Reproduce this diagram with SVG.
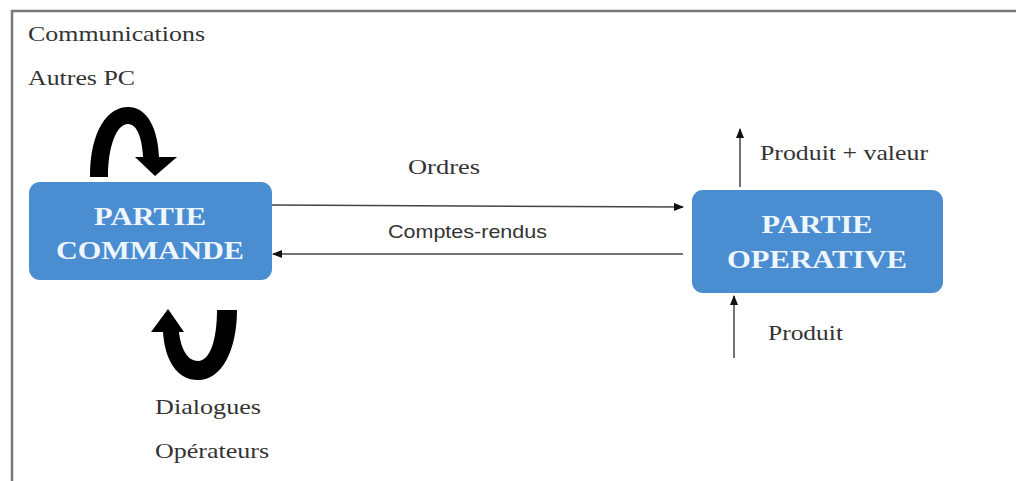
<svg xmlns="http://www.w3.org/2000/svg" width="1016" height="481" viewBox="0 0 1016 481">
<style>
.lbl{font-family:"Liberation Serif","Times New Roman",serif;font-size:22px;fill:#333}
.box{fill:#4a8dd0}
.bt{font-family:"Liberation Serif","Times New Roman",serif;font-size:26px;font-weight:bold;fill:#eef6ff;text-anchor:middle}
.con{stroke:#444;stroke-width:1.5;fill:none}
.sans{font-family:"Liberation Sans",Arial,sans-serif;font-size:19px;fill:#333}
</style>
<defs>
<marker id="ah" markerWidth="10" markerHeight="8" refX="9" refY="4" orient="auto" markerUnits="userSpaceOnUse">
<path d="M0,0 L10,4 L0,8 Z" fill="#111"/>
</marker>
</defs>
<rect width="1016" height="481" fill="#fff"/>
<path d="M12,481 V11 H1016" stroke="#7a7a7a" stroke-width="2.5" fill="none"/>
<g id="labels">
<text class="lbl" x="28" y="41" textLength="177" lengthAdjust="spacingAndGlyphs">Communications</text>
<text class="lbl" x="28" y="85" textLength="107" lengthAdjust="spacingAndGlyphs">Autres PC</text>
<text class="lbl" x="155" y="414" textLength="106" lengthAdjust="spacingAndGlyphs">Dialogues</text>
<text class="lbl" x="155" y="458" textLength="114" lengthAdjust="spacingAndGlyphs">Opérateurs</text>
</g>
<g id="partie-commande">
<rect class="box" x="29" y="182" width="243" height="98" rx="11"/>
<text class="bt" x="150" y="225" textLength="112" lengthAdjust="spacingAndGlyphs">PARTIE</text>
<text class="bt" x="150" y="259" textLength="188" lengthAdjust="spacingAndGlyphs">COMMANDE</text>
</g>
<g id="partie-operative">
<rect class="box" x="692" y="190" width="251" height="103" rx="11"/>
<text class="bt" x="817" y="233" textLength="111" lengthAdjust="spacingAndGlyphs">PARTIE</text>
<text class="bt" x="817" y="268" textLength="180" lengthAdjust="spacingAndGlyphs">OPERATIVE</text>
</g>
<g id="connectors">
<line class="con" x1="272" y1="205" x2="683" y2="207" marker-end="url(#ah)"/>
<text class="lbl" x="408" y="174" textLength="72" lengthAdjust="spacingAndGlyphs">Ordres</text>
<line class="con" x1="683" y1="254" x2="273" y2="254" marker-end="url(#ah)"/>
<text class="sans" x="388" y="238" textLength="159" lengthAdjust="spacingAndGlyphs">Comptes-rendus</text>
<line class="con" x1="740" y1="187" x2="740" y2="129" marker-end="url(#ah)"/>
<text class="lbl" x="760" y="160" textLength="168" lengthAdjust="spacingAndGlyphs">Produit + valeur</text>
<line class="con" x1="734" y1="358" x2="734" y2="296" marker-end="url(#ah)"/>
<text class="lbl" x="768" y="340" textLength="75" lengthAdjust="spacingAndGlyphs">Produit</text>
<path d="M90 177 C90 130 108 107 128 107 C148 107 158 130 159 157 L177 157 L155 176 L135 157 L143 157 C142 138 137 124 128 124 C117 124 108 145 108 177 Z" fill="#000"/>
<path d="M237 310 C237 350 222 380 198 380 C178 380 165 362 163 332 L151 332 L168 309 L184 332 L179 332 C181 350 188 361 198 361 C210 361 217 340 217 310 Z" fill="#000"/>
</g>
</svg>
